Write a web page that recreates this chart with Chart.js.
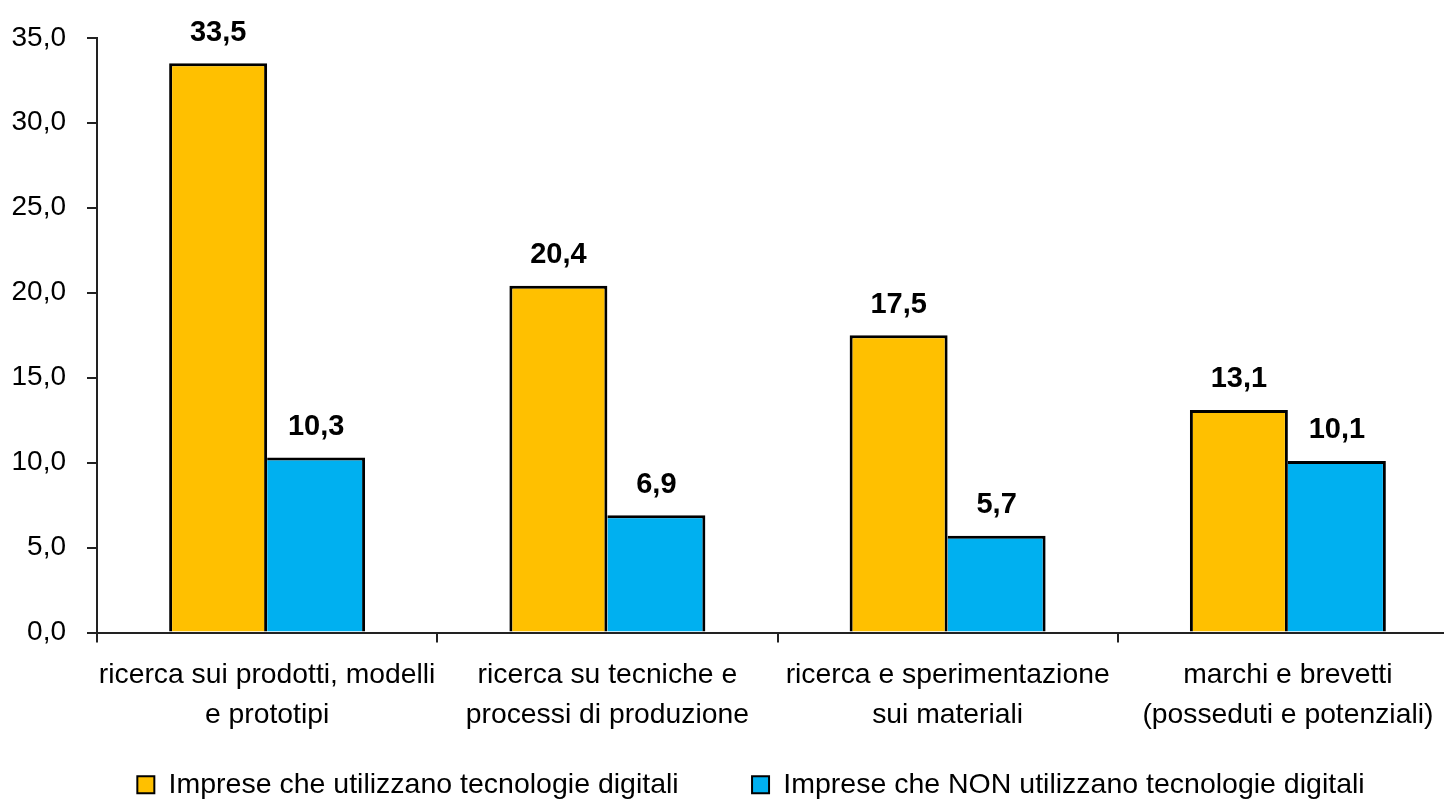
<!DOCTYPE html>
<html>
<head>
<meta charset="utf-8">
<script src="https://cdn.jsdelivr.net/npm/chart.js@4.4.1/dist/chart.umd.min.js"></script>
<style>
html,body{margin:0;padding:0;background:#fff;overflow:hidden;}
canvas{display:block;}
</style>
</head>
<body>
<canvas id="c" width="1502" height="802"></canvas>
<script>
const categories = [
  ["ricerca sui prodotti, modelli", "e prototipi"],
  ["ricerca su tecniche e", "processi di produzione"],
  ["ricerca e sperimentazione", "sui materiali"],
  ["marchi e brevetti", "(posseduti e potenziali)"]
];
const seriesNames = [
  "Imprese che utilizzano tecnologie digitali",
  "Imprese che NON utilizzano tecnologie digitali"
];
const digitalValues = [33.5, 20.4, 17.5, 13.1];
const nonDigitalValues = [10.3, 6.9, 5.7, 10.1];
const yTicks = [0, 5, 10, 15, 20, 25, 30, 35];

const FONT = "'Liberation Sans', Arial, sans-serif";
const fmt = v => v.toFixed(1).replace('.', ',');

const dataLabels = {
  id: 'dataLabels',
  afterDatasetsDraw(chart) {
    const ctx = chart.ctx;
    ctx.save();
    ctx.font = "bold 29px " + FONT;
    ctx.fillStyle = '#000';
    ctx.textAlign = 'center';
    ctx.textBaseline = 'alphabetic';
    chart.data.datasets.forEach((ds, i) => {
      const meta = chart.getDatasetMeta(i);
      meta.data.forEach((el, j) => {
        ctx.fillText(fmt(ds.data[j]), el.x, el.y - 22.5);
      });
    });
    ctx.restore();
  }
};

new Chart(document.getElementById('c'), {
  type: 'bar',
  data: {
    labels: categories,
    datasets: [
      {
        label: seriesNames[0],
        data: digitalValues,
        backgroundColor: '#FFC000',
        borderColor: '#000',
        borderWidth: { top: 3, left: 3, right: 3, bottom: 0 },
        borderSkipped: false,
        categoryPercentage: 0.576,
        barPercentage: 1.0
      },
      {
        label: seriesNames[1],
        data: nonDigitalValues,
        backgroundColor: '#00B0F0',
        borderColor: '#000',
        borderWidth: { top: 3, left: 0, right: 3, bottom: 0 },
        borderSkipped: false,
        categoryPercentage: 0.576,
        barPercentage: 1.0
      }
    ]
  },
  options: {
    responsive: false,
    animation: false,
    layout: { padding: { left: 0, right: 0, top: 26, bottom: -7 } },
    plugins: {
      tooltip: { enabled: false },
      legend: {
        position: 'bottom',
        labels: {
          color: '#000',
          font: { family: FONT, size: 28.5 },
          boxWidth: 17,
          boxHeight: 17,
          padding: 10,
          generateLabels(chart) {
            const items = Chart.defaults.plugins.legend.labels.generateLabels(chart);
            items.forEach((it, i) => {
              it.lineWidth = 2;
              it.strokeStyle = '#000';
              if (i === 0) it.text = it.text + '        ';
            });
            return items;
          }
        }
      }
    },
    scales: {
      x: {
        offset: true,
        grid: { offset: true, drawOnChartArea: false, drawTicks: true, tickLength: 10, color: '#222', lineWidth: 2 },
        border: { display: true, color: '#222', width: 2 },
        ticks: {
          color: '#000',
          font: { family: FONT, size: 28.3, lineHeight: 1.4 },
          padding: 13,
          maxRotation: 0,
          autoSkip: false
        },
        afterFit(scale) { scale.height = 128; }
      },
      y: {
        min: 0,
        max: 35,
        afterBuildTicks(scale) { scale.ticks = yTicks.map(v => ({ value: v })); },
        grid: { drawOnChartArea: false, drawTicks: true, tickLength: 10, color: '#222', lineWidth: 2 },
        border: { display: true, color: '#222', width: 2 },
        ticks: {
          color: '#000',
          font: { family: FONT, size: 28 },
          padding: 21,
          callback: v => fmt(v)
        },
        afterFit(scale) { scale.width = 97; }
      },
      spacer: {
        type: 'linear',
        position: 'right',
        display: true,
        grid: { display: false },
        border: { display: false },
        ticks: { display: false },
        afterFit(scale) { scale.width = 44; }
      }
    }
  },
  plugins: [dataLabels]
});
</script>
</body>
</html>
